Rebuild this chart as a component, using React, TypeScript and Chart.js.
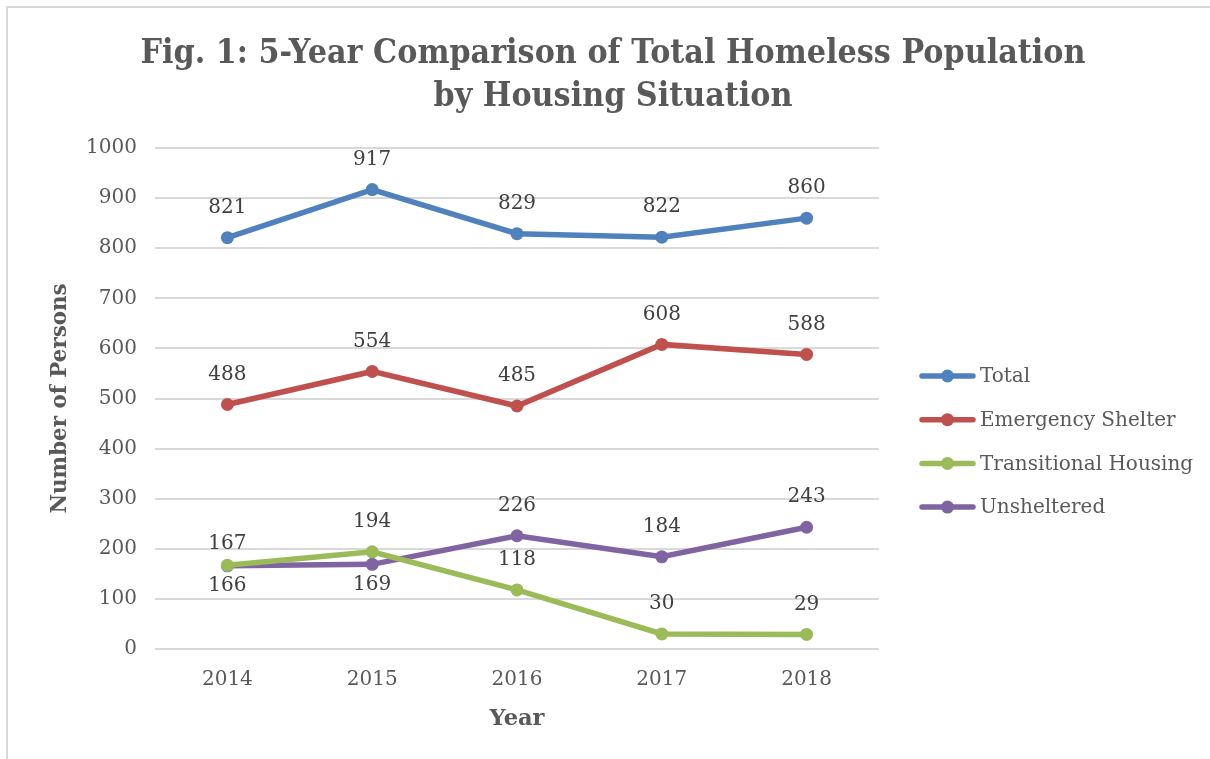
import React, { useEffect, useRef } from "react";
import { Chart, registerables } from "chart.js";

Chart.register(...registerables);

const years = ["2014", "2015", "2016", "2017", "2018"];
const totalValues = [821, 917, 829, 822, 860];
const emergencyValues = [488, 554, 485, 608, 588];
const transitionalValues = [167, 194, 118, 30, 29];
const unshelteredValues = [166, 169, 226, 184, 243];
const seriesNames = ["Total", "Emergency Shelter", "Transitional Housing", "Unsheltered"];
const seriesColors = ["#4F81BD", "#C0504D", "#9BBB59", "#8064A2"];
const labelSides = [
  ["above", "above", "above", "above", "above"],
  ["above", "above", "above", "above", "above"],
  ["near", "above", "above", "above", "above"],
  ["below", "below", "above", "above", "above"],
];
const titleLines = ["Fig. 1: 5-Year Comparison of Total Homeless Population", "by Housing Situation"];
const yTitle = "Number of Persons";
const xTitle = "Year";

const SERIF = "'DejaVu Serif', 'Liberation Serif', serif";
const TEXT = "#595959";

function drawScaled(ctx: CanvasRenderingContext2D, text: string, font: string, sx: number) {
  ctx.font = font;
  ctx.save();
  ctx.scale(sx, 1);
  ctx.fillText(text, 0, 0);
  ctx.restore();
}

const decorPlugin = {
  id: "decor",
  beforeDraw(chart: any) {
    const ctx = chart.ctx as CanvasRenderingContext2D;
    ctx.save();
    ctx.fillStyle = "#ffffff";
    ctx.fillRect(0, 0, chart.width, chart.height);
    ctx.fillStyle = "#d9d9d9";
    ctx.fillRect(6, 6, 2, chart.height);
    ctx.fillRect(6, 6, chart.width, 2);
    ctx.restore();
  },
  afterDraw(chart: any) {
    const ctx = chart.ctx as CanvasRenderingContext2D;
    const area = chart.chartArea;
    ctx.save();
    ctx.fillStyle = TEXT;
    ctx.textAlign = "center";
    ctx.textBaseline = "alphabetic";
    // title
    const tFont = `bold 34px ${SERIF}`;
    ctx.font = tFont;
    const w1 = ctx.measureText(titleLines[0]).width;
    const sx = 945 / w1;
    const baselines = [63, 106];
    titleLines.forEach((line, i) => {
      ctx.save();
      ctx.translate(613, baselines[i]);
      drawScaled(ctx, line, tFont, sx);
      ctx.restore();
    });
    // axis titles
    const aFont = `bold 23px ${SERIF}`;
    ctx.font = aFont;
    const wy = ctx.measureText(xTitle).width;
    ctx.save();
    ctx.translate((area.left + area.right) / 2, 725);
    drawScaled(ctx, xTitle, aFont, 55 / wy);
    ctx.restore();
    ctx.font = aFont;
    const wp = ctx.measureText(yTitle).width;
    ctx.save();
    ctx.translate(66, (area.top + area.bottom) / 2);
    ctx.rotate(-Math.PI / 2);
    drawScaled(ctx, yTitle, aFont, 230 / wp);
    ctx.restore();
    // legend
    ctx.textAlign = "left";
    ctx.textBaseline = "middle";
    ctx.font = `20px ${SERIF}`;
    seriesNames.forEach((name, i) => {
      const y = 376 + i * 43.7;
      ctx.strokeStyle = seriesColors[i];
      ctx.lineWidth = 5.5;
      ctx.lineCap = "round";
      ctx.beginPath();
      ctx.moveTo(922, y);
      ctx.lineTo(973, y);
      ctx.stroke();
      ctx.fillStyle = seriesColors[i];
      ctx.beginPath();
      ctx.arc(947.5, y, 6.5, 0, Math.PI * 2);
      ctx.fill();
      ctx.fillStyle = TEXT;
      ctx.fillText(name, 980, y + 1);
    });
    ctx.restore();
  },
  afterDatasetsDraw(chart: any) {
    const ctx = chart.ctx as CanvasRenderingContext2D;
    ctx.save();
    ctx.font = `20px ${SERIF}`;
    ctx.fillStyle = "#404040";
    ctx.textAlign = "center";
    ctx.textBaseline = "middle";
    chart.data.datasets.forEach((ds: any, di: number) => {
      const meta = chart.getDatasetMeta(di);
      meta.data.forEach((pt: any, i: number) => {
        const side = labelSides[di][i];
        const dy = side === "below" ? 20 : side === "near" ? -22 : -30;
        ctx.fillText(String(ds.data[i]), pt.x, pt.y + dy);
      });
    });
    ctx.restore();
  },
};

export default function App() {
  const ref = useRef<HTMLCanvasElement | null>(null);
  useEffect(() => {
    if (!ref.current) return;
    const allValues = [totalValues, emergencyValues, transitionalValues, unshelteredValues];
    const chart = new Chart(ref.current, {
      type: "line",
      data: {
        labels: years,
        datasets: allValues.map((vals, i) => ({
          label: seriesNames[i],
          data: vals,
          borderColor: seriesColors[i],
          backgroundColor: seriesColors[i],
          borderWidth: 5.5,
          pointRadius: 6.5,
          pointBorderWidth: 0,
          pointBackgroundColor: seriesColors[i],
          tension: 0,
          fill: false,
        })),
      },
      options: {
        animation: false,
        responsive: false,
        devicePixelRatio: 1,
        layout: { padding: { left: 0, right: 331, top: 148, bottom: 70 } },
        plugins: {
          legend: { display: false },
          title: { display: false },
          tooltip: { enabled: false },
        },
        scales: {
          x: {
            offset: true,
            grid: { display: false, drawTicks: false },
            border: { display: false },
            ticks: { color: TEXT, font: { family: SERIF, size: 20 }, padding: 19 },
            afterFit: (s: any) => {
              s.height = 40;
            },
          },
          y: {
            min: 0,
            max: 1000,
            ticks: {
              stepSize: 100,
              color: TEXT,
              font: { family: SERIF, size: 20 },
              padding: 18,
              callback: (v: any) => String(v),
            },
            grid: { color: "#d9d9d9", lineWidth: 2, drawTicks: false },
            border: { display: false },
            afterFit: (s: any) => {
              s.width = 155;
            },
          },
        },
      },
      plugins: [decorPlugin],
    });
    return () => chart.destroy();
  }, []);
  return (
    <div style={{ position: "absolute", left: 0, top: 0, width: 1210, height: 759 }}>
      <canvas ref={ref} width={1210} height={759} style={{ display: "block", width: 1210, height: 759 }} />
    </div>
  );
}
